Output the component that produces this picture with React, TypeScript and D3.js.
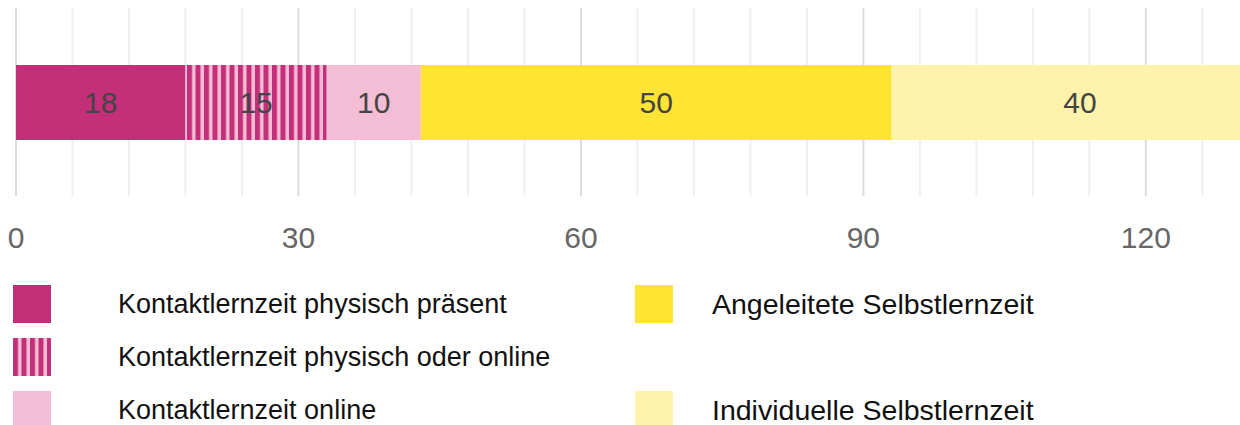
import React, { useEffect, useRef } from 'react';
import * as d3 from 'd3';

// Daten
const segmentNames = [
  'Kontaktlernzeit physisch präsent',
  'Kontaktlernzeit physisch oder online',
  'Kontaktlernzeit online',
  'Angeleitete Selbstlernzeit',
  'Individuelle Selbstlernzeit',
];
const segmentValues = [18, 15, 10, 50, 40];
const segmentColors = ['#C42F7A', 'url(#stripes)', '#F2BDD5', '#FFE433', '#FFF3AB'];
const majorTicks = [0, 30, 60, 90, 120];
const minorTicks = d3.range(0, 131, 6);
// Legend columns: left three, right two (row index 0 and 2)
const legendSlots = [
  { col: 0, row: 0 },
  { col: 0, row: 1 },
  { col: 0, row: 2 },
  { col: 1, row: 0 },
  { col: 1, row: 2 },
];

const width = 1240;
const height = 425;
const margin = { left: 16, right: 0 };
const font = '"Liberation Sans", Arial, sans-serif';

const App = () => {
  const svgRef = useRef<SVGSVGElement | null>(null);

  useEffect(() => {
    const svg = d3.select(svgRef.current);
    svg.selectAll('*').remove(); // Очистка

    const x = d3.scaleLinear().domain([0, 130]).range([margin.left, width - margin.right]);
    const y = d3.scaleBand().domain(['bar']).range([65, 140]).padding(0);

    // Streifenmuster
    const defs = svg.append('defs');
    const pat = defs.append('pattern')
      .attr('id', 'stripes')
      .attr('patternUnits', 'userSpaceOnUse')
      .attr('width', 8.5)
      .attr('height', 10);
    pat.append('rect').attr('width', 8.5).attr('height', 10).attr('fill', '#F2BDD5');
    pat.append('rect').attr('width', 5).attr('height', 10).attr('fill', '#C42F7A');

    defs.append('clipPath').attr('id', 'plotClip')
      .append('rect')
      .attr('x', margin.left).attr('y', 0)
      .attr('width', width - margin.left).attr('height', 200);

    // Gitternetz
    svg.append('g')
      .selectAll('line')
      .data(minorTicks.filter(t => !majorTicks.includes(t)))
      .join('line')
      .attr('x1', d => x(d)).attr('x2', d => x(d))
      .attr('y1', 8).attr('y2', 196)
      .attr('stroke', '#EFEFEF').attr('stroke-width', 2);

    svg.append('g')
      .selectAll('line')
      .data(majorTicks)
      .join('line')
      .attr('x1', d => x(d)).attr('x2', d => x(d))
      .attr('y1', 8).attr('y2', 196)
      .attr('stroke', '#DCDCDC').attr('stroke-width', 2);

    // Balken
    const starts = d3.cumsum([0, ...segmentValues]);
    const segs = segmentValues.map((v, i) => ({ v, x0: starts[i], x1: starts[i] + v, color: segmentColors[i] }));

    const barG = svg.append('g').attr('clip-path', 'url(#plotClip)');
    barG.selectAll('rect')
      .data(segs)
      .join('rect')
      .attr('x', d => x(d.x0))
      .attr('width', d => x(d.x1) - x(d.x0))
      .attr('y', y('bar')!)
      .attr('height', y.bandwidth())
      .attr('fill', d => d.color);

    svg.append('g')
      .selectAll('text')
      .data(segs)
      .join('text')
      .attr('x', d => x((d.x0 + d.x1) / 2))
      .attr('y', y('bar')! + y.bandwidth() / 2)
      .attr('dy', '0.35em')
      .attr('text-anchor', 'middle')
      .attr('font-family', font)
      .attr('font-size', 30)
      .attr('fill', '#444')
      .text(d => d.v);

    // Achse
    svg.append('g')
      .selectAll('text')
      .data(majorTicks)
      .join('text')
      .attr('x', d => x(d))
      .attr('y', 237)
      .attr('dy', '0.35em')
      .attr('text-anchor', 'middle')
      .attr('font-family', font)
      .attr('font-size', 30)
      .attr('fill', '#666')
      .text(d => d);

    // Legende
    const colX = [13, 635];
    const textX = [105, 77];
    const textSize = [27, 28.5];
    const rowY = [285, 338, 391];
    const leg = svg.append('g')
      .selectAll('g')
      .data(segmentNames)
      .join('g')
      .attr('transform', (_, i) => `translate(${colX[legendSlots[i].col]},${rowY[legendSlots[i].row]})`);
    leg.append('rect')
      .attr('width', 38).attr('height', 38)
      .attr('fill', (_, i) => segmentColors[i]);
    leg.append('text')
      .attr('x', (_, i) => textX[legendSlots[i].col])
      .attr('y', 19)
      .attr('dy', '0.35em')
      .attr('font-family', font)
      .attr('font-size', (_, i) => textSize[legendSlots[i].col])
      .attr('fill', '#111')
      .text(d => d);
  }, []);

  return (
    <svg
      ref={svgRef}
      width={width}
      height={height}
      style={{ position: 'absolute', left: 0, top: 0 }}
    />
  );
};

export default App;
